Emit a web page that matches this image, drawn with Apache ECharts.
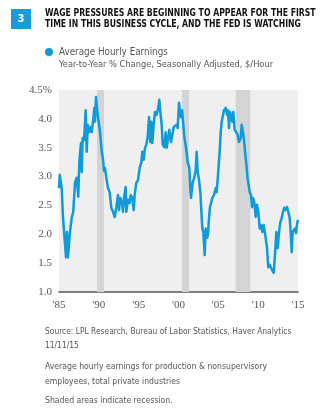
<!DOCTYPE html>
<html>
<head>
<meta charset="utf-8">
<script src="https://cdn.jsdelivr.net/npm/echarts@6/dist/echarts.min.js"></script>
<style>
  html, body { margin: 0; padding: 0; background: #fff; }
  #chart { width: 325px; height: 417px; }
</style>
</head>
<body>
<div id="chart"></div>
<script>
// Year-over-year % change in average hourly earnings (decimal year, value)
const years = [
  1985.00, 1985.09, 1985.34, 1985.50, 1985.63, 1985.75, 1985.88, 1986.00, 1986.13, 1986.38,
  1986.59, 1986.79, 1987.01, 1987.22, 1987.42, 1987.55, 1987.76, 1987.85, 1987.97, 1988.14,
  1988.35, 1988.48, 1988.60, 1988.80, 1988.98, 1989.10, 1989.31, 1989.43, 1989.52, 1989.64,
  1989.81, 1989.93, 1990.15, 1990.36, 1990.52, 1990.65, 1990.77, 1990.94, 1991.15, 1991.36,
  1991.56, 1991.78, 1991.99, 1992.19, 1992.41, 1992.53, 1992.69, 1992.91, 1993.03, 1993.16,
  1993.37, 1993.45, 1993.66, 1993.87, 1994.00, 1994.20, 1994.38, 1994.50, 1994.70, 1994.92,
  1995.13, 1995.33, 1995.46, 1995.63, 1995.80, 1995.96, 1996.13, 1996.30, 1996.46, 1996.59,
  1996.71, 1996.89, 1997.05, 1997.26, 1997.46, 1997.59, 1997.72, 1997.89, 1998.02, 1998.22,
  1998.39, 1998.52, 1998.72, 1998.85, 1999.06, 1999.22, 1999.40, 1999.56, 1999.77, 1999.90,
  2000.06, 2000.19, 2000.31, 2000.44, 2000.60, 2000.73, 2000.94, 2001.15, 2001.36, 2001.48,
  2001.57, 2001.78, 2001.98, 2002.16, 2002.28, 2002.41, 2002.57, 2002.76, 2002.89, 2002.99,
  2003.11, 2003.29, 2003.41, 2003.58, 2003.70, 2003.83, 2003.95, 2004.12, 2004.24, 2004.46,
  2004.67, 2004.79, 2004.96, 2005.17, 2005.30, 2005.42, 2005.59, 2005.71, 2005.92, 2006.09,
  2006.21, 2006.34, 2006.46, 2006.63, 2006.75, 2006.88, 2007.05, 2007.25, 2007.43, 2007.59,
  2007.81, 2007.93, 2008.10, 2008.26, 2008.43, 2008.53, 2008.66, 2008.94, 2009.10, 2009.22,
  2009.35, 2009.51, 2009.69, 2009.85, 2010.02, 2010.19, 2010.35, 2010.52, 2010.69, 2010.89,
  2011.11, 2011.27, 2011.45, 2011.61, 2011.77, 2011.95, 2012.11, 2012.28, 2012.45, 2012.61,
  2012.78, 2012.95, 2013.12, 2013.28, 2013.46, 2013.62, 2013.78, 2013.96, 2014.08, 2014.21,
  2014.33, 2014.50, 2014.62, 2014.75, 2014.87, 2015.00
];
const earnings = [
  2.80, 3.03, 2.80, 2.30, 2.05, 2.04, 1.60, 2.04, 1.60, 2.04,
  2.28, 2.39, 2.90, 2.98, 2.65, 3.25, 3.58, 3.08, 3.67, 3.63,
  4.15, 3.43, 3.90, 3.77, 3.86, 3.77, 4.00, 4.19, 3.95, 4.38,
  4.12, 4.00, 3.77, 3.43, 3.30, 3.10, 3.15, 2.98, 2.80, 2.73,
  2.46, 2.39, 2.30, 2.46, 2.68, 2.42, 2.63, 2.54, 2.39, 2.63,
  2.82, 2.39, 2.60, 2.54, 2.68, 2.63, 2.42, 2.68, 2.89, 2.94,
  3.15, 3.24, 3.43, 3.29, 3.50, 3.55, 3.69, 4.03, 3.60, 3.95,
  3.58, 3.90, 4.12, 4.07, 4.19, 4.33, 4.12, 3.90, 3.55, 3.51,
  3.77, 3.50, 3.51, 3.81, 3.60, 3.72, 3.86, 3.84, 3.90, 3.84,
  4.28, 4.12, 4.03, 4.15, 3.90, 3.69, 3.50, 3.25, 3.15, 2.80,
  2.63, 2.90, 2.98, 3.11, 3.43, 3.08, 2.95, 2.70, 2.35, 2.10,
  2.04, 1.64, 2.10, 1.94, 1.99, 2.28, 2.47, 2.56, 2.63, 2.68,
  2.80, 2.73, 3.03, 3.43, 3.77, 3.95, 3.98, 4.15, 4.19, 4.07,
  4.15, 3.84, 4.12, 4.03, 3.95, 4.12, 3.81, 3.77, 3.72, 3.60,
  3.67, 3.90, 3.77, 3.58, 3.32, 3.20, 2.98, 2.73, 2.68, 2.47,
  2.63, 2.56, 2.30, 2.51, 2.39, 2.10, 2.16, 2.04, 2.16, 1.99,
  1.76, 1.43, 1.47, 1.42, 1.43, 1.33, 1.64, 2.04, 1.76, 2.02,
  2.21, 2.28, 2.39, 2.46, 2.42, 2.47, 2.39, 2.28, 2.04, 1.69,
  2.04, 2.02, 2.10, 2.02, 2.16, 2.25
];
// Recession periods (start, end) in decimal years
const recessions = [
  [1989.77, 1990.65],
  [2000.44, 2001.32],
  [2007.18, 2009.01]
];
const yTicks = [1.0, 1.5, 2.0, 2.5, 3.0, 3.5, 4.0, 4.5];
const xTicks = [1985, 1990, 1995, 2000, 2005, 2010, 2015];

const seriesData = years.map((y, i) => [y, earnings[i]]);

const chart = echarts.init(document.getElementById('chart'), null, { renderer: 'canvas' });

const textGrey = '#555';
const cond = '"DejaVu Sans Condensed", "DejaVu Sans", sans-serif';

// Bold heading line, squeezed horizontally for a compressed headline look
function headline(text, y) {
  return {
    type: 'text', x: 45, y: y, scaleX: 0.86,
    style: { text: text, x: 0, y: 0, fill: '#111', font: 'bold 10px ' + cond, textVerticalAlign: 'middle' }
  };
}
function note(text, y, size) {
  return {
    type: 'text',
    style: { text: text, x: 45, y: y, fill: textGrey, font: size + 'px ' + cond, textVerticalAlign: 'middle' }
  };
}

chart.setOption({
  animation: false,
  backgroundColor: '#fff',
  grid: {
    left: 59, right: 27, top: 90, height: 202,
    show: true, backgroundColor: '#efefef', borderWidth: 0
  },
  legend: {
    left: 45, top: 47, padding: 0,
    icon: 'circle', itemWidth: 8, itemHeight: 8, itemGap: 5,
    textStyle: { color: textGrey, fontSize: 9.8, fontFamily: cond, padding: [0, 0, 0, 1] },
    data: ['Average Hourly Earnings']
  },
  xAxis: {
    type: 'value', min: 1985, max: 2015, interval: 5,
    axisLine: { show: true, onZero: false, lineStyle: { color: '#555', width: 1.5 } },
    axisTick: { show: false },
    splitLine: { show: false },
    axisLabel: {
      margin: 8, color: textGrey, fontSize: 11, fontFamily: '"Liberation Serif", serif',
      formatter: v => xTicks.includes(v) ? "'" + String(v).slice(2) : ''
    }
  },
  yAxis: {
    type: 'value', min: 1.0, max: 4.5, interval: 0.5,
    axisLine: { show: false }, axisTick: { show: false },
    splitLine: { show: false },
    axisLabel: {
      margin: 7, color: textGrey, fontSize: 11, fontFamily: '"Liberation Serif", serif',
      formatter: v => {
        const t = yTicks.find(k => Math.abs(k - v) < 1e-9);
        if (t === undefined) return '';
        return t === 4.5 ? t.toFixed(1) + '%' : t.toFixed(1);
      }
    }
  },
  series: [{
    name: 'Average Hourly Earnings',
    type: 'line',
    data: seriesData,
    showSymbol: false,
    symbol: 'circle',
    lineStyle: { color: '#0e9bd8', width: 2.5, join: 'round' },
    itemStyle: { color: '#0e9bd8' },
    markArea: {
      silent: true,
      itemStyle: { color: '#d3d4d6' },
      data: recessions.map(r => [{ xAxis: r[0] }, { xAxis: r[1] }])
    }
  }],
  graphic: [
    { type: 'rect', shape: { x: 11, y: 9, width: 20, height: 20 }, style: { fill: '#1a9ad6' } },
    { type: 'text', style: { text: '3', x: 21, y: 19, fill: '#fff', font: 'bold 11px ' + cond, textAlign: 'center', textVerticalAlign: 'middle' } },
    headline('WAGE PRESSURES ARE BEGINNING TO APPEAR FOR THE FIRST', 13),
    headline('TIME IN THIS BUSINESS CYCLE, AND THE FED IS WATCHING', 24.5),
    { type: 'text', style: { text: 'Year-to-Year % Change, Seasonally Adjusted, $/Hour', x: 59, y: 64.5, fill: textGrey, font: '9.2px ' + cond, textVerticalAlign: 'middle' } },
    note('Source: LPL Research, Bureau of Labor Statistics, Haver Analytics', 331.5, 8.4),
    note('11/11/15', 345.5, 8.4),
    note('Average hourly earnings for production & nonsupervisory', 366.5, 8.6),
    note('employees, total private industries', 381.5, 8.6),
    note('Shaded areas indicate recession.', 401, 8.6)
  ]
});
</script>
</body>
</html>
